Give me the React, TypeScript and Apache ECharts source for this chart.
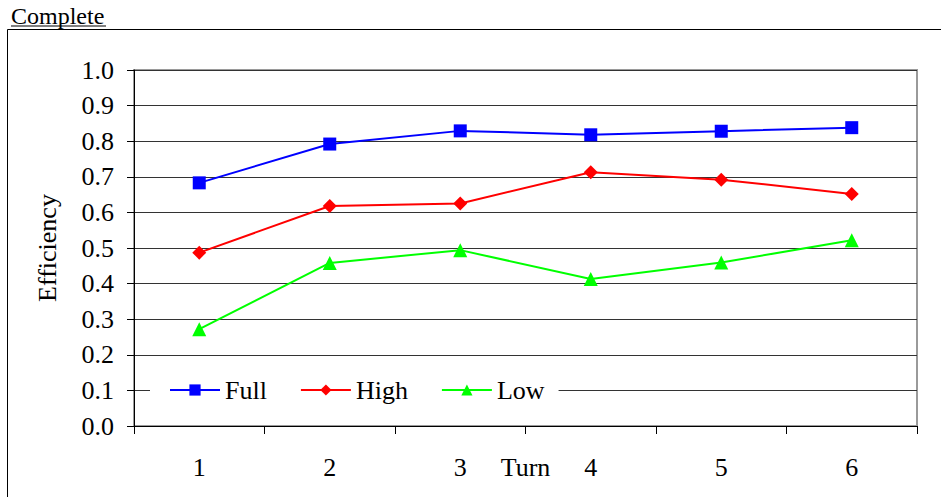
import React, { useEffect, useRef } from "react";
import * as echarts from "echarts";

const categories = ["1", "2", "3", "4", "5", "6"];
const fullValues = [0.683, 0.792, 0.829, 0.818, 0.828, 0.838];
const highValues = [0.487, 0.618, 0.625, 0.713, 0.692, 0.652];
const lowValues = [0.272, 0.458, 0.494, 0.413, 0.459, 0.522];
const seriesNames = ["Full", "High", "Low"];

const FONT = "'Liberation Serif', 'Times New Roman', serif";

export default function App() {
  const ref = useRef<HTMLDivElement>(null);
  useEffect(() => {
    if (!ref.current) return;
    const chart = echarts.init(ref.current, null, { renderer: "svg" });
    const mk = (name: string, data: number[], color: string, symbol: string, size: number) => ({
      name,
      type: "line",
      data,
      symbol,
      symbolSize: size,
      showSymbol: true,
      lineStyle: { color, width: 2 },
      itemStyle: { color, borderWidth: 0 },
      z: 5,
    });
    chart.setOption({
      animation: false,
      textStyle: { fontFamily: FONT },
      grid: {
        left: 134,
        right: 24,
        top: 70,
        bottom: 71,
        show: true,
        borderColor: "#9a9a9a",
        borderWidth: 2,
        backgroundColor: "transparent",
        containLabel: false,
        outerBoundsMode: "none",
      },
      graphic: [
        {
          type: "line",
          shape: { x1: 7.5, y1: 29.5, x2: 941, y2: 29.5 },
          style: { stroke: "#000", lineWidth: 1 },
        },
        {
          type: "line",
          shape: { x1: 7.5, y1: 29.5, x2: 7.5, y2: 497 },
          style: { stroke: "#000", lineWidth: 1 },
        },
        {
          type: "text",
          x: 11,
          y: 4,
          style: {
            text: "Complete",
            font: `24px ${FONT}`,
            fill: "#000",
            verticalAlign: "top",
          },
        },
        {
          type: "line",
          shape: { x1: 11, y1: 26, x2: 106, y2: 26 },
          style: { stroke: "#000", lineWidth: 1.2 },
        },
      ],
      legend: {
        data: seriesNames,
        left: 150,
        top: 374,
        orient: "horizontal",
        backgroundColor: "#fff",
        padding: [3, 14, 3, 19],
        itemWidth: 50,
        itemHeight: 14,
        itemGap: 33,
        textStyle: { fontFamily: FONT, fontSize: 26, color: "#000" },
        z: 10,
      },
      xAxis: {
        type: "category",
        data: categories,
        boundaryGap: true,
        name: "Turn",
        nameLocation: "middle",
        nameGap: 28,
        nameMoveOverlap: false,
        nameTextStyle: { fontFamily: FONT, fontSize: 26, color: "#000" },
        axisLine: { lineStyle: { color: "#000", width: 1 } },
        axisTick: { show: true, inside: false, length: 8, alignWithLabel: false, lineStyle: { color: "#000" } },
        axisLabel: { fontFamily: FONT, fontSize: 26, color: "#000", margin: 28 },
        splitLine: { show: false },
      },
      yAxis: {
        type: "value",
        min: 0,
        max: 1,
        interval: 0.1,
        name: "Efficiency",
        nameLocation: "middle",
        nameGap: 74,
        nameMoveOverlap: false,
        nameRotate: 90,
        nameTextStyle: { fontFamily: FONT, fontSize: 26, color: "#000" },
        axisLine: { show: true, lineStyle: { color: "#000", width: 1 } },
        axisTick: { show: true, inside: false, length: 7, lineStyle: { color: "#000" } },
        axisLabel: {
          fontFamily: FONT,
          fontSize: 26,
          color: "#000",
          margin: 20,
          formatter: (v: number) => v.toFixed(1),
        },
        splitLine: { show: true, lineStyle: { color: "#333", width: 1 } },
      },
      series: [
        mk("Full", fullValues, "#0000ff", "rect", 13),
        mk("High", highValues, "#ff0000", "diamond", 14),
        mk("Low", lowValues, "#00ff00", "triangle", 14),
      ],
    });
    return () => chart.dispose();
  }, []);
  return <div ref={ref} style={{ width: 941, height: 497, position: "absolute", left: 0, top: 0 }} />;
}
